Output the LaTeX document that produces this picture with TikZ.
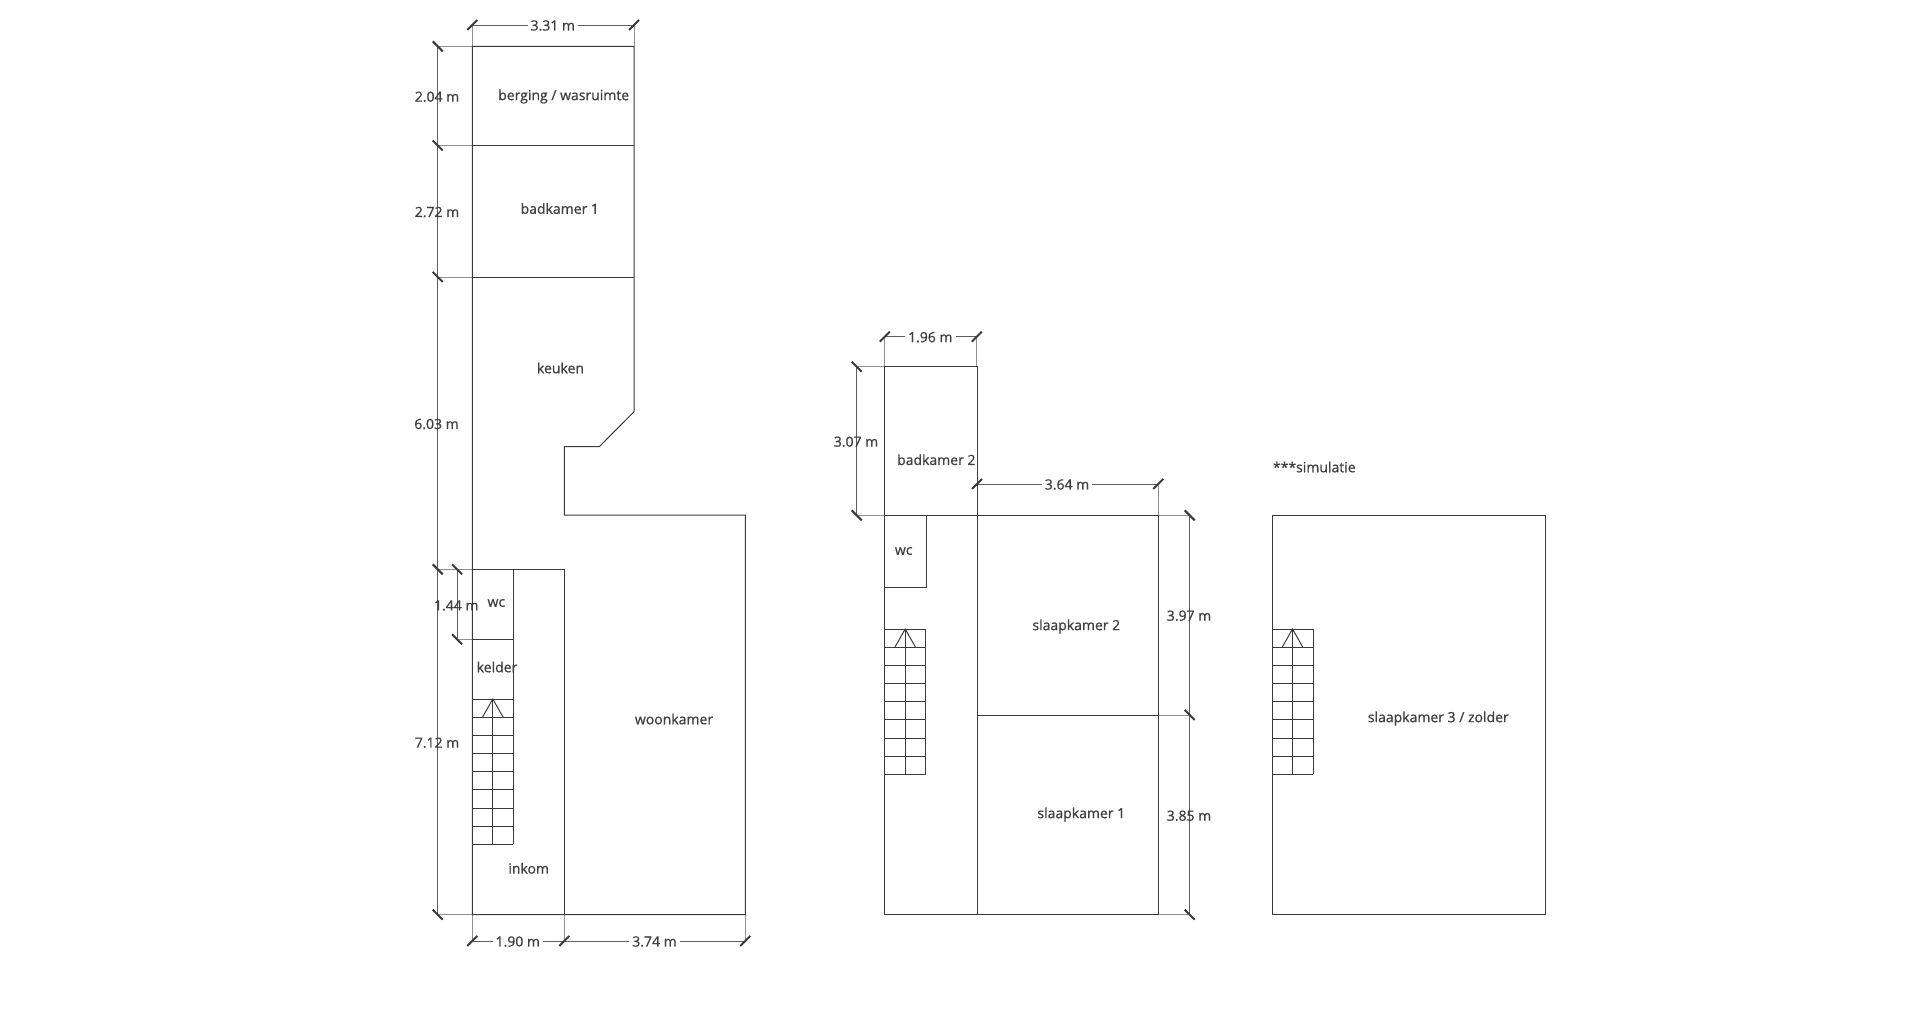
\documentclass[tikz,border=0pt]{standalone}
\usepackage{fontspec}
\setmainfont[FakeBold=0.8]{Open Sans}
\definecolor{wallc}{HTML}{3A3A3A}
\definecolor{dimc}{HTML}{5E5E5E}
\definecolor{extc}{HTML}{909090}
\definecolor{textc}{HTML}{404040}
\tikzset{
  wall/.style={draw=wallc,line width=1pt,line join=miter},
  dimline/.style={draw=dimc,line width=1pt},
  extline/.style={draw=extc,line width=0.9pt},
  tickmark/.style={draw=wallc,line width=2pt},
  room/.style={text=textc,font=\fontsize{14}{16}\selectfont,inner sep=0pt,anchor=center},
  dimlabel/.style={room,fill=none},
  hdimlabel/.style={room,fill=white,inner xsep=3pt,inner ysep=1pt},
  stairs/.pic={
    \foreach \i in {0,...,8} \draw[wall] (0,18.18*\i) -- (41,18.18*\i);
    \draw[wall] (0,0) -- (0,145.4) (41,0) -- (41,145.4) (20.5,0) -- (20.5,145.4);
    \draw[wall] (10.2,18.18) -- (20.5,0) -- (30.8,18.18);
  }
}
\newcommand{\htick}[2]{\draw[tickmark] (#1-5,#2+5) -- (#1+5,#2-5);}
\newcommand{\vtick}[2]{\draw[tickmark] (#1-5,#2-5) -- (#1+5,#2+5);}
\begin{document}
\begin{tikzpicture}[x=1pt,y=-1pt]
\useasboundingbox[fill=white] (0,0) rectangle (1920,1012);
% extension lines
\draw[extline] (472.3,25) -- (472.3,46.3) (634,25) -- (634,46.3);
\draw[extline] (437.7,46.3) -- (472.3,46.3) (437.7,145.5) -- (472.3,145.5) (437.7,277) -- (472.3,277) (437.7,569.3) -- (472.3,569.3) (437.7,914.7) -- (472.3,914.7) (457,639.3) -- (472.3,639.3);
\draw[extline] (472.3,914.7) -- (472.3,941) (564.3,914.7) -- (564.3,941) (745.3,914.7) -- (745.3,941);
\draw[extline] (884.7,336.7) -- (884.7,366.7) (976.7,336.7) -- (976.7,366.7) (1158.3,484) -- (1158.3,515.3) (977,484) -- (977,515.3);
\draw[extline] (856.7,366.7) -- (884.7,366.7) (856.7,515.3) -- (884.7,515.3);
\draw[extline] (1158.3,515.3) -- (1189.7,515.3) (1158.3,715) -- (1189.7,715) (1158.3,914.7) -- (1189.7,914.7);
% ground floor
\draw[wall] (472.3,46.3) -- (634,46.3) -- (634,411.7) -- (599.3,446.7) -- (564.3,446.7) -- (564.3,515) -- (745.3,515) -- (745.3,914.7) -- (472.3,914.7) -- cycle;
\draw[wall] (472.3,145.5) -- (634,145.5) (472.3,277) -- (634,277);
\draw[wall] (472.3,569.3) -- (564.3,569.3) -- (564.3,914.7);
\draw[wall] (513.3,569.3) -- (513.3,699) (472.3,639.3) -- (513.3,639.3);
\pic at (472.3,699) {stairs};
% first floor
\draw[wall] (884.7,366.7) -- (977,366.7) -- (977,515.3) -- (1158.3,515.3) -- (1158.3,914.7) -- (884.7,914.7) -- cycle;
\draw[wall] (884.7,515.3) -- (977,515.3) (977,515.3) -- (977,914.7) (977,715) -- (1158.3,715);
\draw[wall] (926.3,515.3) -- (926.3,587.7) -- (884.7,587.7);
\pic at (884.7,629) {stairs};
% attic
\draw[wall] (1272,515.3) rectangle (1545,914.7);
\pic at (1272,629) {stairs};
% dimension lines
\draw[dimline] (472.3,25) -- (634,25);
\draw[dimline] (437.7,46.3) -- (437.7,914.7);
\draw[dimline] (457,569.3) -- (457,639.3);
\draw[dimline] (472.3,941) -- (745.3,941);
\draw[dimline] (884.7,336.7) -- (976.7,336.7);
\draw[dimline] (856.7,366.7) -- (856.7,515.3);
\draw[dimline] (977,484) -- (1158.3,484);
\draw[dimline] (1189.7,515.3) -- (1189.7,914.7);
% ticks
\htick{472.3}{25}\htick{634}{25}
\htick{472.3}{941}\htick{564.3}{941}\htick{745.3}{941}
\htick{884.7}{336.7}\htick{976.7}{336.7}
\htick{977}{484}\htick{1158.3}{484}
\vtick{437.7}{46.3}\vtick{437.7}{145.5}\vtick{437.7}{277}\vtick{437.7}{569.3}\vtick{437.7}{914.7}
\vtick{457}{569.3}\vtick{457}{639.3}
\vtick{856.7}{366.7}\vtick{856.7}{515.3}
\vtick{1189.7}{515.3}\vtick{1189.7}{715}\vtick{1189.7}{914.7}
% labels
\node[hdimlabel] (d331) at (552.8,25.5) {3.31 m};
\node[dimlabel] (d204) at (437,96.7) {2.04 m};
\node[dimlabel] (d272) at (437,212) {2.72 m};
\node[dimlabel] (d603) at (436.5,424) {6.03 m};
\node[dimlabel] (d144) at (456.3,605.5) {1.44 m};
\node[dimlabel] (d712) at (437,742.7) {7.12 m};
\node[hdimlabel] (d190) at (517.8,941.5) {1.90 m};
\node[hdimlabel] (d374) at (654.5,941.5) {3.74 m};
\node[hdimlabel] (d196) at (930.3,337.2) {1.96 m};
\node[dimlabel] (d307) at (856,441.7) {3.07 m};
\node[hdimlabel] (d364) at (1067,484.5) {3.64 m};
\node[dimlabel] (d397) at (1189,615.7) {3.97 m};
\node[dimlabel] (d385) at (1189,815.7) {3.85 m};
\node[room] (r1) at (563.7,96.5) {berging / wasruimte};
\node[room] (r2) at (559.8,208.5) {badkamer 1};
\node[room] (r3) at (560.5,368) {keuken};
\node[room] (r4) at (496.3,603) {wc};
\node[room] (r5) at (497,667) {kelder};
\node[room] (r6) at (674,719) {woonkamer};
\node[room] (r7) at (528.7,868.3) {inkom};
\node[room] (r8) at (936.3,459.7) {badkamer 2};
\node[room] (r9) at (903.7,551) {wc};
\node[room] (r10) at (1076.3,626.5) {slaapkamer 2};
\node[room] (r11) at (1081.3,814.5) {slaapkamer 1};
\node[room] (r12) at (1314.3,467) {***simulatie};
\node[room] (r13) at (1438.3,718.5) {slaapkamer 3 / zolder};
\end{tikzpicture}
\end{document}
